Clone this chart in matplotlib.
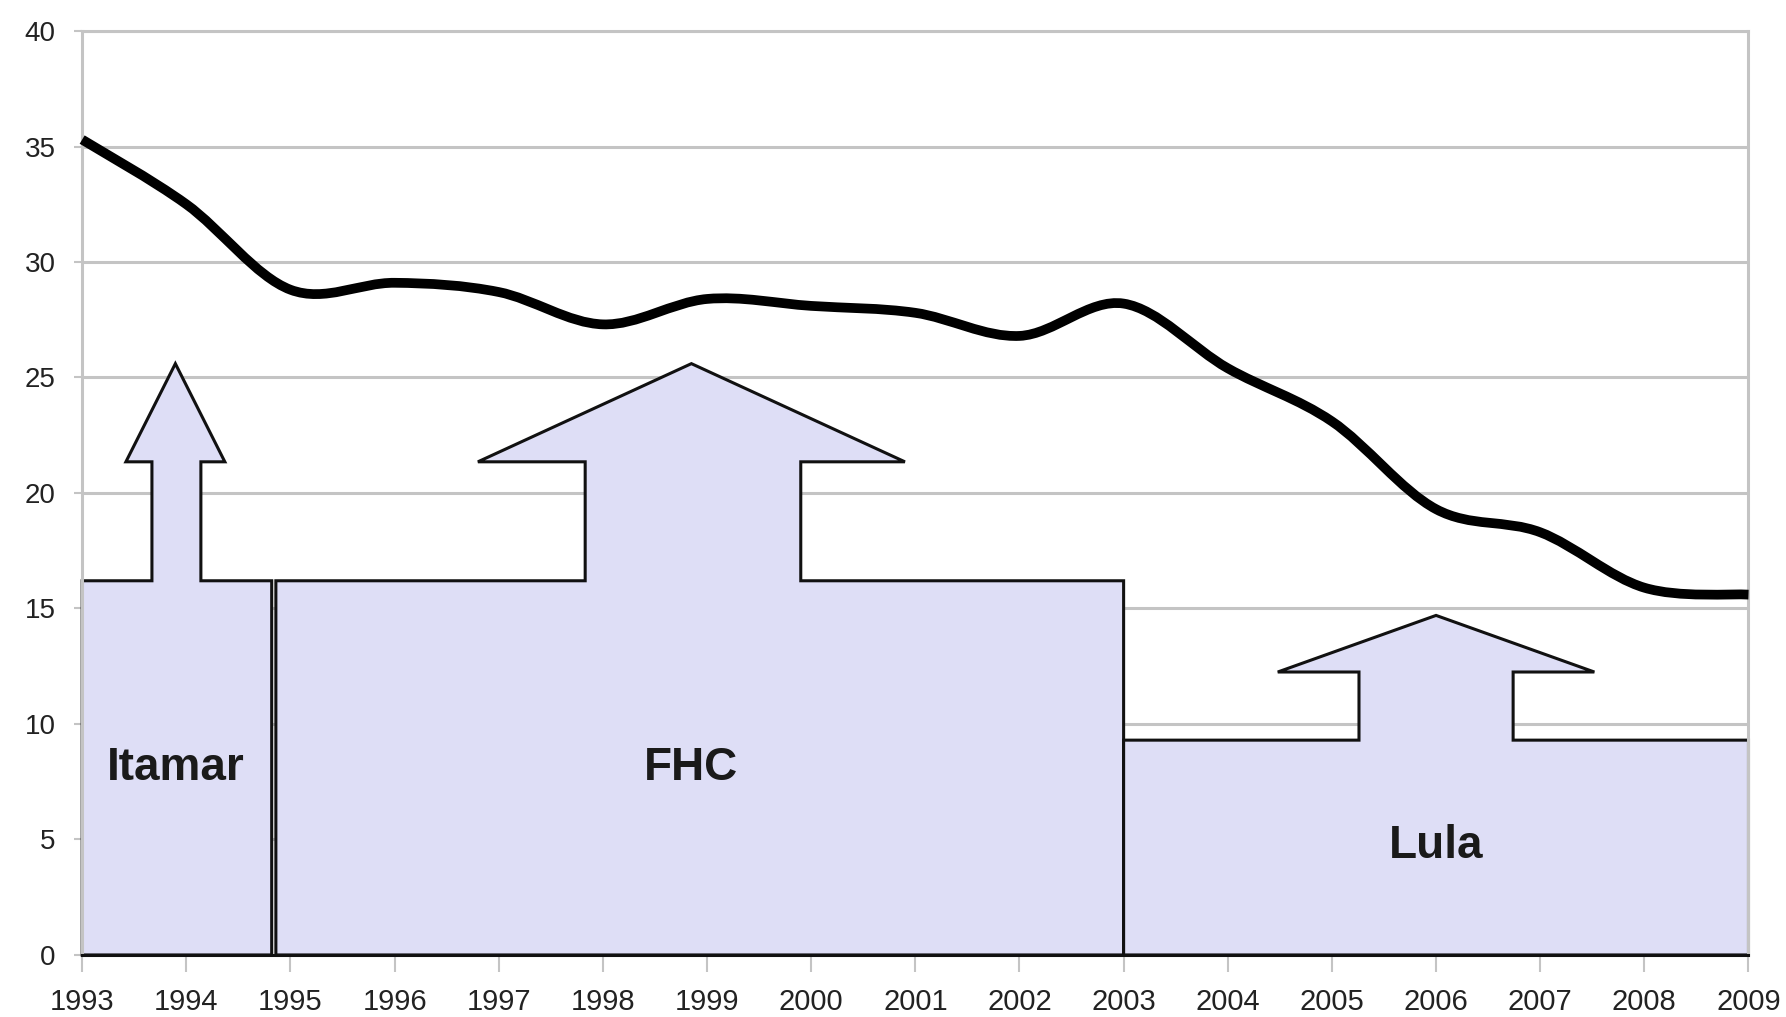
import matplotlib
matplotlib.use('Agg')
import matplotlib.pyplot as plt
from matplotlib.patches import Polygon, PathPatch
from matplotlib.path import Path

# data
years = list(range(1993, 2010))
values = [35.3, 32.5, 28.8, 29.1, 28.7, 27.3, 28.4, 28.1, 27.8,
          26.8, 28.2, 25.4, 23.1, 19.3, 18.3, 15.9, 15.6]

terms = ['Itamar', 'FHC', 'Lula']
term_start = [1993.0, 1994.86, 2003.0]
term_end = [1994.82, 2003.0, 2009.0]
box_top = [16.2, 16.2, 9.3]
shaft_left = [1993.67, 1997.83, 2005.26]
shaft_right = [1994.14, 1999.9, 2006.74]
head_left = [1993.42, 1996.8, 2004.48]
head_right = [1994.37, 2000.9, 2007.52]
head_base = [21.35, 21.35, 12.25]
head_tip = [25.6, 25.6, 14.7]
label_y = [8.1, 8.1, 4.7]

fill_color = '#dedef6'
grid_color = '#c4c4c4'

fig = plt.figure(figsize=(17.86, 10.17), dpi=100)
ax = fig.add_axes([0.046, 0.061, 0.933, 0.9085])

ax.set_xlim(1993, 2009)
ax.set_ylim(0, 40)
ax.set_yticks(range(0, 41, 5))
ax.set_xticks(years)
ax.yaxis.grid(True, color=grid_color, linewidth=2.2)
ax.set_axisbelow(True)

for s in ax.spines.values():
    s.set_color(grid_color)
    s.set_linewidth(2.2)
ax.spines['bottom'].set_color('#111111')
ax.spines['bottom'].set_zorder(5)

for i in range(len(terms)):
    x0, x1, h = term_start[i], term_end[i], box_top[i]
    tip_x = (head_left[i] + head_right[i]) / 2
    pts = [(x0, 0), (x0, h), (shaft_left[i], h), (shaft_left[i], head_base[i]),
           (head_left[i], head_base[i]), (tip_x, head_tip[i]),
           (head_right[i], head_base[i]), (shaft_right[i], head_base[i]),
           (shaft_right[i], h), (x1, h), (x1, 0)]
    ax.add_patch(Polygon(pts, closed=True, facecolor=fill_color,
                         edgecolor='#111111', linewidth=2.2, zorder=2,
                         joinstyle='miter', clip_on=False))
    ax.text(tip_x, label_y[i], terms[i], ha='center', va='center',
            fontsize=33, fontweight='bold', color='#1a1a1a',
            family=['Liberation Sans', 'DejaVu Sans'], zorder=3)

# smoothed line like the spreadsheet's "smooth line" option (Bezier through the points)
verts = [(years[0], values[0])]
codes = [Path.MOVETO]
n = len(years)
for k in range(n - 1):
    p0 = (years[max(k - 1, 0)], values[max(k - 1, 0)])
    p1 = (years[k], values[k])
    p2 = (years[k + 1], values[k + 1])
    p3 = (years[min(k + 2, n - 1)], values[min(k + 2, n - 1)])
    c1 = (p1[0] + (p2[0] - p0[0]) / 6, p1[1] + (p2[1] - p0[1]) / 6)
    c2 = (p2[0] - (p3[0] - p1[0]) / 6, p2[1] - (p3[1] - p1[1]) / 6)
    verts += [c1, c2, p2]
    codes += [Path.CURVE4] * 3
ax.add_patch(PathPatch(Path(verts, codes), facecolor='none', edgecolor='black',
                       linewidth=7, joinstyle='round', capstyle='butt',
                       zorder=4, clip_on=False))

ax.tick_params(axis='y', direction='out', length=6, width=1.5, color=grid_color,
               labelsize=20, labelcolor='#222222', pad=13)
ax.tick_params(axis='x', direction='out', length=12, width=1.5, color=grid_color,
               labelsize=21, labelcolor='#222222', pad=12)
for lab in ax.get_xticklabels() + ax.get_yticklabels():
    lab.set_family(['Liberation Sans', 'DejaVu Sans'])

fig.savefig('out.png', dpi=100, facecolor='white')
